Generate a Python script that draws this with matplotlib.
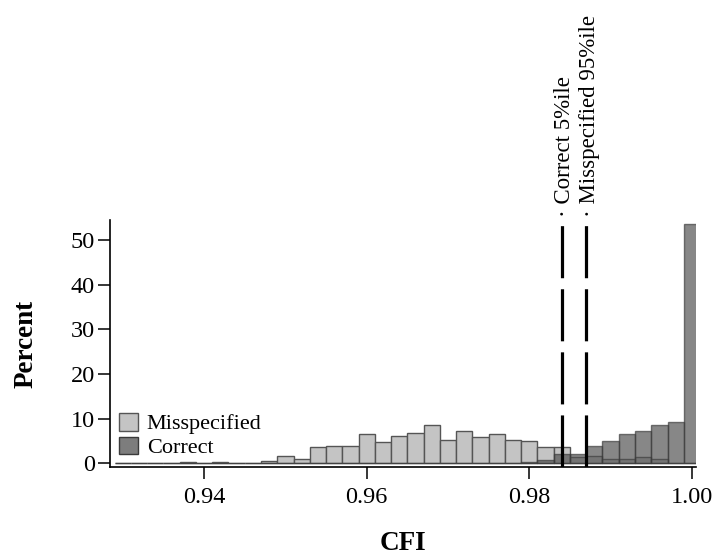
import numpy as np
import matplotlib
matplotlib.use('Agg')
import matplotlib.pyplot as plt
from matplotlib.patches import Patch

plt.rcParams['font.family'] = ['Liberation Serif', 'DejaVu Serif']

# CFI bin centres (bin width 0.002)
bins = [0.930, 0.932, 0.934, 0.936, 0.938, 0.940, 0.942, 0.944, 0.946, 0.948,
        0.950, 0.952, 0.954, 0.956, 0.958, 0.960, 0.962, 0.964, 0.966, 0.968,
        0.970, 0.972, 0.974, 0.976, 0.978, 0.980, 0.982, 0.984, 0.986, 0.988,
        0.990, 0.992, 0.994, 0.996, 0.998, 1.000]

misspecified = [0.1, 0.2, 0.2, 0.1, 0.3, 0.1, 0.3, 0.1, 0.2, 0.5,
                1.6, 1.1, 3.6, 3.8, 3.8, 6.6, 4.7, 6.1, 6.8, 8.5,
                5.3, 7.2, 5.9, 6.6, 5.2, 5.1, 3.7, 3.7, 1.5, 1.6,
                0.9, 0.9, 1.5, 1.0, 0.2, 0.0]

correct = [0.0, 0.0, 0.0, 0.0, 0.0, 0.0, 0.0, 0.0, 0.0, 0.0,
           0.0, 0.0, 0.0, 0.0, 0.0, 0.0, 0.0, 0.0, 0.0, 0.0,
           0.0, 0.0, 0.0, 0.0, 0.1, 0.4, 0.8, 2.1, 2.2, 3.9,
           5.0, 6.7, 7.3, 8.6, 9.2, 53.7]

cutoffs = [0.984, 0.987]
cutoff_labels = ['· Correct 5%ile', '· Misspecified 95%ile']

bin_width = 0.002

fig = plt.figure(figsize=(7.13, 5.56), dpi=100)
ax = fig.add_axes([110 / 713, 89 / 556, 586 / 713, 247 / 556])

ax.bar(bins, misspecified, width=bin_width, color='#c4c4c4',
       edgecolor='#555555', linewidth=1.0, zorder=2)
ax.bar(bins, correct, width=bin_width, color='#4f4f4f', alpha=0.68,
       edgecolor='#3a3a3a', linewidth=1.0, zorder=3)

# percentile cut-offs, dash pattern ends in a gap at the top
for xc, lab in zip(cutoffs, cutoff_labels):
    ax.axvline(xc, ymin=0, ymax=1, color='black', linewidth=2.3,
               dashes=(16.3, 3.45), zorder=4)
    ax.annotate(lab, xy=(xc, 1), xycoords=('data', 'axes fraction'),
                xytext=(2, 2.5), textcoords='offset points',
                rotation=90, ha='center', va='bottom', fontsize=16.5,
                annotation_clip=False)

ax.set_xlim(0.92843, 1.0005)
ax.set_ylim(-0.8, 54.5)
ax.set_xticks([0.94, 0.96, 0.98, 1.00])
ax.set_xticklabels(['0.94', '0.96', '0.98', '1.00'])
ax.set_yticks([0, 10, 20, 30, 40, 50])

for side in ['top', 'right']:
    ax.spines[side].set_visible(False)
for side in ['left', 'bottom']:
    ax.spines[side].set_linewidth(1.2)

ax.tick_params(axis='both', direction='out', length=8.5, width=1.1,
               labelsize=17.5, color='black')
ax.tick_params(axis='x', pad=6)
ax.tick_params(axis='y', pad=2.5)

fig.text(26 / 713, 1 - 344 / 556, 'Percent', rotation=90, ha='center',
         va='center', fontsize=19.5, fontweight='bold')
fig.text(403 / 713, 1 - 544 / 556, 'CFI', ha='center', va='center',
         fontsize=19.5, fontweight='bold')

handles = [Patch(facecolor='#c4c4c4', edgecolor='#555555', linewidth=1.0),
           Patch(facecolor='#7d7d7d', edgecolor='#3a3a3a', linewidth=1.0)]
ax.legend(handles, ['Misspecified', 'Correct'], loc='lower left',
          bbox_to_anchor=(0.0, 0.0), frameon=False, fontsize=16,
          handlelength=0.85, handleheight=0.85, handletextpad=0.4,
          labelspacing=0.1, borderaxespad=0.2, borderpad=0.2)

fig.savefig('out.png', dpi=100)
